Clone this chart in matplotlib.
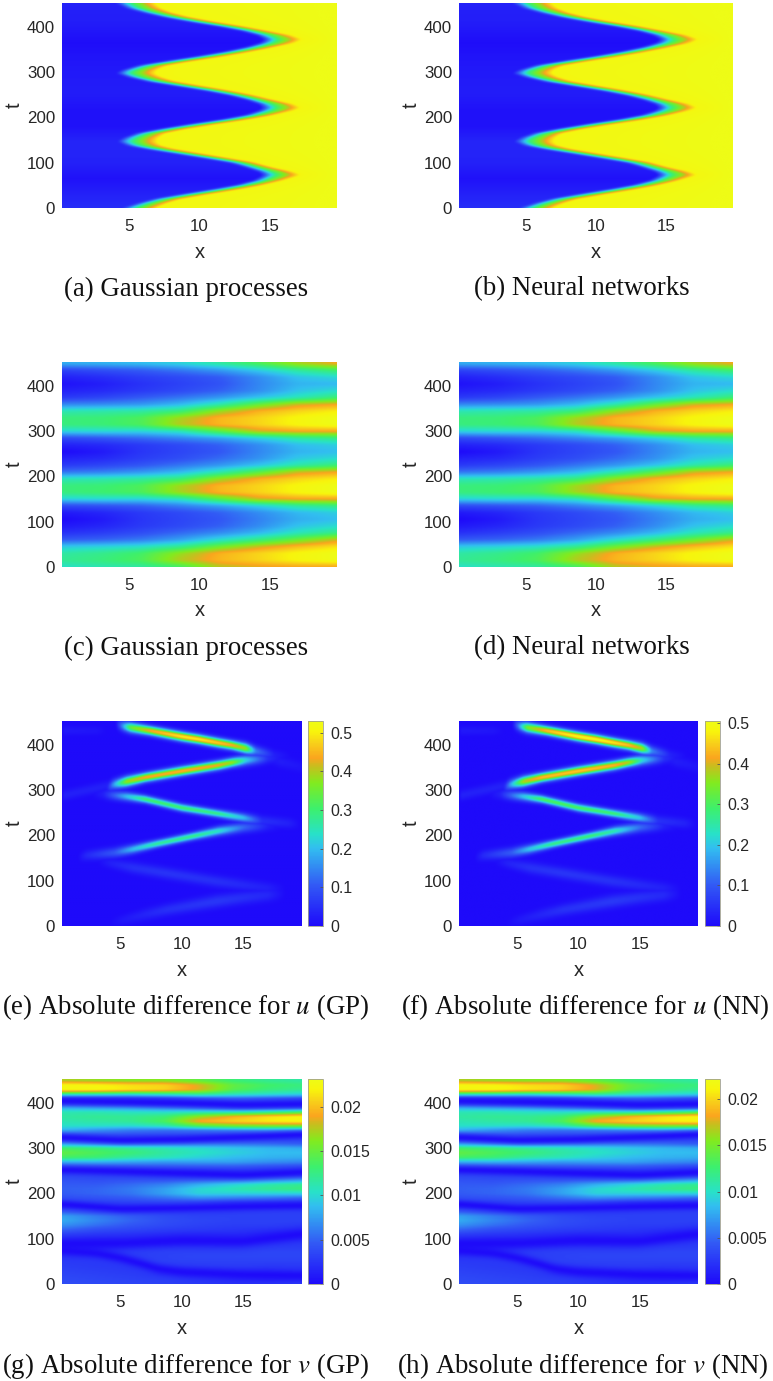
import numpy as np
import matplotlib
matplotlib.use("Agg")
import matplotlib.pyplot as plt
from matplotlib.colors import LinearSegmentedColormap

plt.rcParams['mathtext.fontset'] = 'stix'

W, H = 773, 1381

# ---------- colour scale ----------
cmap_pos = [0, .2, .38, .45, .57, .7, .78, .82, .9, .95, 1]
cmap_rgb = [(30, 10, 250), (50, 90, 245), (50, 190, 240), (40, 225, 200), (60, 240, 110),
            (130, 235, 30), (200, 190, 30), (250, 165, 30), (248, 212, 25), (248, 244, 12), (238, 252, 22)]
cmap = LinearSegmentedColormap.from_list('mat', [(p, tuple(c / 255 for c in rgb)) for p, rgb in zip(cmap_pos, cmap_rgb)], N=256)

X_MIN, X_MAX, T_MAX = 0.25, 19.75, 453

# ---------- u field: where the front sits at each time ----------
u_t = [0, 10, 20, 30, 40, 50, 60, 68, 73, 80, 90, 100, 110, 120, 130, 138, 147, 155, 165, 175, 185, 195, 205, 215,
       222, 230, 240, 250, 260, 270, 280, 290, 298, 305, 315, 325, 335, 345, 355, 365, 373, 382, 392, 402, 412, 422,
       432, 442, 453]
u_mid = [5.5, 6.4, 7.6, 9.5, 11.5, 13.3, 14.6, 15.2, 15.5, 15.1, 14.0, 12.9, 11.0, 9.0, 7.0, 5.7, 5.2, 5.5, 6.3, 8.0,
         10.0, 12.2, 14.0, 15.1, 15.5, 15.1, 14.0, 12.7, 11.0, 9.0, 7.0, 5.7, 5.1, 5.4, 6.4, 8.4, 10.5, 12.4, 14.0,
         15.2, 15.6, 15.0, 13.7, 12.0, 10.0, 8.2, 6.8, 5.7, 5.1]
u_left = [1.0, 0.9, 0.85, 0.85, 0.85, 0.85, 0.9, 1.0, 1.1, 1.0, 0.85, 0.85, 0.85, 0.85, 0.9, 1.0, 1.1, 1.0, 0.9, 0.85,
          0.85, 0.85, 0.9, 1.0, 1.1, 1.0, 0.85, 0.85, 0.85, 0.85, 0.9, 1.0, 1.1, 1.0, 0.9, 0.85, 0.85, 0.85, 0.9,
          1.0, 1.1, 1.0, 0.85, 0.85, 0.85, 0.85, 0.9, 1.0, 1.1]
u_right = [1.1, 1.0, 0.9, 0.9, 0.9, 0.9, 1.0, 1.2, 1.3, 1.2, 0.9, 0.85, 0.85, 0.9, 1.0, 1.2, 1.3, 1.2, 1.0, 0.9,
           0.9, 0.9, 0.95, 1.2, 1.3, 1.2, 0.9, 0.85, 0.85, 0.9, 1.0, 1.2, 1.3, 1.2, 1.0, 0.9, 0.9, 0.9, 0.95,
           1.2, 1.3, 1.2, 0.9, 0.85, 0.85, 0.9, 1.0, 1.2, 1.3]
u_floor_t = [0, 30, 65, 100, 145, 180, 215, 255, 300, 330, 365, 410, 453]
u_floor = [.09, .06, .02, .06, .07, .02, .02, .05, .04, .03, .01, .05, .06]
u_levels = [.55, .85, .97]

# ---------- v field, colour-scale fraction; rows t = 0, 15, ... 450 ----------
grid_x = [0.25, 3.04, 5.82, 8.61, 11.39, 14.18, 16.96, 19.75]
v_t = list(range(0, 451, 15))
v_rows = [
    [.45, .48, .50, .58, .76, .80, .82, .82],
    [.52, .55, .60, .76, .85, .90, .96, 1.0],
    [.50, .53, .58, .72, .84, .90, .96, 1.0],
    [.40, .42, .45, .52, .66, .78, .86, .92],
    [.20, .22, .26, .33, .44, .54, .66, .78],
    [.10, .13, .17, .23, .29, .37, .47, .54],
    [.04, .07, .12, .16, .21, .29, .39, .44],
    [.00, .04, .11, .15, .19, .27, .35, .38],
    [.04, .07, .12, .16, .21, .29, .37, .41],
    [.16, .18, .21, .27, .33, .41, .50, .54],
    [.42, .43, .42, .46, .62, .78, .82, .82],
    [.55, .57, .60, .74, .85, .90, .96, 1.0],
    [.55, .56, .60, .74, .85, .90, .96, 1.0],
    [.47, .48, .50, .55, .72, .84, .90, .94],
    [.25, .27, .31, .37, .48, .62, .78, .82],
    [.12, .15, .19, .25, .31, .39, .49, .56],
    [.06, .08, .13, .17, .23, .30, .40, .44],
    [.00, .04, .11, .15, .19, .28, .36, .38],
    [.06, .08, .12, .16, .21, .29, .38, .41],
    [.16, .19, .23, .28, .33, .41, .50, .54],
    [.42, .43, .42, .46, .62, .78, .82, .82],
    [.55, .56, .60, .76, .85, .90, .96, 1.0],
    [.55, .56, .60, .74, .85, .90, .96, 1.0],
    [.48, .49, .50, .55, .72, .84, .90, .94],
    [.28, .29, .31, .37, .48, .64, .78, .82],
    [.12, .15, .20, .25, .31, .39, .47, .56],
    [.06, .08, .12, .16, .21, .29, .39, .44],
    [.02, .05, .10, .14, .18, .28, .36, .37],
    [.06, .09, .13, .16, .20, .29, .39, .43],
    [.14, .17, .20, .25, .31, .40, .50, .57],
    [.35, .36, .38, .42, .50, .60, .74, .82],
]

# ---------- |u| error: ridges, (x, t at crest, crest value, width) ----------
ridge_x = [
    [4.6, 5.2, 5.8, 7.4, 10.0, 11.4, 13.0, 14.1, 15.2, 16.0, 17.5, 19.0],
    [3.8, 4.4, 5.5, 7.0, 10.0, 13.0, 14.1, 15.2, 17.0, 18.5],
    [2.5, 3.6, 5.5, 7.0, 10.0, 13.0, 15.0, 16.5, 18.7, 19.7],
    [1.5, 2.2, 4.5, 6.0, 8.0, 11.0, 13.0, 15.0, 17.0, 18.5],
    [3.0, 4.2, 6.0, 8.7, 12.8, 15.0, 17.0, 18.5],
    [4.0, 5.2, 7.0, 8.7, 12.8, 15.0, 17.0, 18.5],
    [0.3, 2.5, 4.0],
    [0.3, 3.0, 4.0],
    [16.0, 18.0, 19.75],
]
ridge_t = [
    [445, 440, 437, 430, 417, 411, 403, 398, 391, 385, 376, 372],
    [303, 311, 318, 327, 341, 354, 360, 365, 369, 371],
    [292, 290, 285, 279, 260, 247, 238, 231, 226, 224],
    [150, 155, 161, 169, 181, 198, 209, 217, 220, 222],
    [144, 138, 128, 116, 98, 90, 83, 80],
    [6, 13, 25, 35, 54, 62, 68, 72],
    [287, 300, 309],
    [430, 430, 430],
    [376, 362, 350],
]
ridge_peak = [
    [.0, .17, .34, .44, .50, .50, .47, .44, .38, .14, .03, .0],
    [.0, .16, .38, .44, .45, .43, .38, .22, .05, .0],
    [.0, .03, .20, .30, .30, .28, .20, .05, .03, .0],
    [.0, .04, .10, .20, .27, .28, .24, .12, .03, .0],
    [.0, .03, .05, .055, .05, .04, .03, .0],
    [.0, .02, .035, .05, .06, .05, .04, .0],
    [.03, .03, .03],
    [.02, .015, .0],
    [.0, .025, .015],
]
ridge_width = [
    [8, 8, 8, 7, 7, 7, 7, 7, 8, 8, 8, 8],
    [8, 8, 8, 7, 7, 7, 7, 8, 8, 8],
    [8, 8, 7, 6, 6, 6, 7, 8, 8, 8],
    [8, 8, 8, 7, 6, 6, 7, 8, 8, 8],
    [8, 8, 9, 9, 9, 9, 9, 9],
    [8, 8, 9, 9, 10, 10, 10, 10],
    [8, 8, 8],
    [7, 7, 7],
    [8, 9, 9],
]

# ---------- |v| error, colour-scale fraction; rows t = 0, 10, ... 450, without the dark lines ----------
w_t = list(range(0, 451, 10))
w_rows = [
    [.17, .16, .15, .14, .12, .10, .10, .12],
    [.16, .15, .14, .13, .11, .09, .08, .09],
    [.15, .14, .13, .11, .10, .09, .08, .09],
    [.14, .13, .12, .12, .11, .11, .10, .11],
    [.13, .12, .12, .13, .13, .13, .12, .12],
    [.12, .12, .13, .14, .14, .14, .14, .14],
    [.11, .12, .13, .14, .15, .15, .15, .15],
    [.09, .10, .13, .14, .14, .14, .15, .15],
    [.07, .08, .11, .12, .12, .12, .13, .13],
    [.07, .07, .09, .09, .09, .10, .11, .12],
    [.10, .09, .10, .09, .09, .09, .09, .10],
    [.14, .12, .11, .10, .09, .09, .08, .08],
    [.22, .17, .15, .13, .12, .11, .10, .10],
    [.30, .24, .19, .16, .14, .13, .13, .12],
    [.35, .28, .22, .17, .15, .14, .14, .14],
    [.33, .26, .20, .16, .14, .14, .14, .14],
    [.20, .15, .12, .12, .12, .12, .13, .13],
    [.12, .11, .11, .11, .11, .11, .11, .11],
    [.12, .13, .14, .15, .14, .11, .10, .10],
    [.17, .18, .20, .24, .29, .27, .25, .22],
    [.20, .22, .25, .33, .42, .42, .42, .42],
    [.21, .22, .26, .33, .43, .48, .52, .55],
    [.20, .20, .23, .27, .35, .42, .48, .52],
    [.18, .17, .18, .18, .20, .23, .28, .32],
    [.16, .15, .14, .13, .12, .12, .13, .16],
    [.16, .15, .14, .13, .12, .12, .12, .14],
    [.20, .20, .20, .20, .20, .20, .18, .17],
    [.36, .36, .34, .32, .33, .33, .30, .28],
    [.58, .56, .50, .47, .42, .38, .36, .35],
    [.64, .60, .56, .50, .46, .42, .38, .38],
    [.58, .56, .52, .48, .44, .40, .37, .35],
    [.34, .30, .28, .28, .27, .25, .23, .20],
    [.20, .18, .16, .16, .16, .16, .16, .16],
    [.22, .20, .18, .18, .18, .18, .18, .18],
    [.36, .30, .26, .24, .25, .28, .32, .32],
    [.45, .45, .44, .48, .62, .68, .70, .70],
    [.48, .50, .52, .60, .84, .90, .94, .97],
    [.50, .52, .52, .56, .72, .84, .92, .97],
    [.48, .48, .46, .45, .48, .50, .55, .62],
    [.36, .34, .33, .30, .27, .24, .25, .26],
    [.20, .18, .16, .15, .15, .15, .15, .15],
    [.18, .16, .15, .16, .20, .22, .20, .18],
    [.55, .52, .48, .50, .54, .48, .45, .42],
    [.97, .97, .93, .90, .80, .62, .55, .52],
    [.97, .96, .92, .90, .80, .64, .58, .55],
    [.75, .72, .70, .70, .64, .56, .52, .50],
]
# dark lines in the |v| error, (x, t)
line_x = [
    [.25, 5, 10, 15, 19.75],
    [.25, 5, 10, 15, 19.75],
    [.25, 5, 10, 15, 19.75],
    [.25, 5, 10, 15, 19.75],
    [.25, 5, 10, 15, 19.75],
    [.25, 3, 5, 7, 8, 10, 15, 19.75],
]
line_t = [
    [405, 403, 400, 396, 398],
    [324, 318, 320, 325, 330],
    [252, 249, 245, 241, 247],
    [176, 166, 168, 171, 173],
    [88, 90, 96, 94, 110],
    [74, 68, 57, 42, 33, 26, 20, 18],
]
line_width = [7, 6.5, 6.5, 6, 9, 8]

# ---------- labels ----------
x_ticks = [5, 10, 15]
t_ticks = [0, 100, 200, 300, 400]
captions = ['(a) Gaussian processes', '(b) Neural networks', '(c) Gaussian processes', '(d) Neural networks',
            '(e) Absolute difference for $u$ (GP)', '(f) Absolute difference for $u$ (NN)',
            '(g) Absolute difference for $v$ (GP)', '(h) Absolute difference for $v$ (NN)']
e_ticks = [0, .1, .2, .3, .4, .5]
e_ticklabels = ['0', '0.1', '0.2', '0.3', '0.4', '0.5']
g_ticks = [0, .005, .01, .015, .02]
g_ticklabels = ['0', '0.005', '0.01', '0.015', '0.02']
e_vmax = [.53, .505]
g_vmax = [.0231, .0222]

# ---------- build fields on a fine grid ----------
xs = np.linspace(X_MIN, X_MAX, 400)
ts = np.linspace(0, T_MAX, 460)


def build_u():
    out = np.zeros((ts.size, xs.size))
    for i, t in enumerate(ts):
        m = np.interp(t, u_t, u_mid)
        l = np.interp(t, u_t, u_left)
        r = np.interp(t, u_t, u_right)
        f = np.interp(t, u_floor_t, u_floor)
        out[i] = np.interp(xs, [m - l, m, m + r, m + 1.4 * r, X_MAX], [f] + u_levels + [1.0])
    return out


def upsample(ys, rows):
    a = np.array(rows, float)
    cols = np.array([np.interp(ts, ys, a[:, j]) for j in range(a.shape[1])]).T
    return np.array([np.interp(xs, grid_x, row) for row in cols])


def build_e():
    out = np.zeros((ts.size, xs.size))
    for rx, rt, rp, rw in zip(ridge_x, ridge_t, ridge_peak, ridge_width):
        c = np.interp(xs, rx, rt)
        p = np.interp(xs, rx, rp, left=0, right=0)
        w = np.interp(xs, rx, rw)
        out = np.maximum(out, p * np.exp(-0.5 * ((ts[:, None] - c) / w) ** 2))
    return out


def build_w():
    out = smooth_x(smooth_t(upsample(w_t, w_rows), 7))
    for lx, lt, w in zip(line_x, line_t, line_width):
        c = smooth_x(np.interp(xs, lx, lt)[None, :], 41)[0]
        out = out * (1 - 0.92 * np.exp(-0.5 * ((ts[:, None] - c) / w) ** 2))
    return out


def smooth_t(a, n=9):
    k = np.hanning(n + 2)[1:-1]
    k = k / k.sum()
    pad = np.pad(a, ((n // 2, n // 2), (0, 0)), mode='edge')
    return np.apply_along_axis(lambda c: np.convolve(c, k, mode='valid'), 0, pad)


def smooth_x(a, n=25):
    k = np.hanning(n + 2)[1:-1]
    k = k / k.sum()
    pad = np.pad(a, ((0, 0), (n // 2, n // 2)), mode='edge')
    return np.apply_along_axis(lambda c: np.convolve(c, k, mode='valid'), 1, pad)


U = smooth_t(build_u(), 11)
V = smooth_x(smooth_t(upsample(v_t, v_rows), 11))
E = smooth_x(build_e(), 9)
G = build_w()

# ---------- figure ----------
fig = plt.figure(figsize=(W / 100, H / 100), dpi=100)
TXT = '#262626'
SANS = 'Liberation Sans'
SERIF = 'Liberation Serif'


def add_px(x0, y0, x1, y1):
    return fig.add_axes([x0 / W, 1 - y1 / H, (x1 - x0) / W, (y1 - y0) / H])


def panel(x0, y0, x1, y1, data, vmax):
    ax = add_px(x0, y0, x1, y1)
    im = ax.imshow(data, origin='lower', extent=[X_MIN, X_MAX, 0, T_MAX], aspect='auto',
                   cmap=cmap, vmin=0, vmax=vmax, interpolation='bilinear')
    ax.set_xticks(x_ticks)
    ax.set_yticks(t_ticks)
    ax.tick_params(axis='y', length=0, labelsize=12.2, labelcolor=TXT, pad=5)
    ax.tick_params(axis='x', length=0, labelsize=12.2, labelcolor=TXT, pad=8)
    for lb in ax.get_xticklabels() + ax.get_yticklabels():
        lb.set_family(SANS)
    for s in ax.spines.values():
        s.set_visible(False)
    fig.text(((x0 + x1) / 2) / W, 1 - (y1 + 44) / H, 'x', ha='center', va='center',
             family=SANS, fontsize=14.5, color=TXT)
    fig.text((x0 - 48) / W, 1 - ((y0 + y1) / 2) / H, 't', ha='center', va='center', rotation=90,
             family=SANS, fontsize=14.5, color=TXT)
    return im


def colourbar(x0, y0, x1, y1, im, ticks, labels):
    cax = add_px(x0, y0, x1, y1)
    cb = fig.colorbar(im, cax=cax)
    cb.set_ticks(ticks)
    cb.set_ticklabels(labels)
    cax.tick_params(length=2, width=0.6, color='#555555', direction='in', labelsize=11.4, labelcolor=TXT, pad=5)
    for lb in cax.get_yticklabels():
        lb.set_family(SANS)
    cb.outline.set_edgecolor('#a0a090')
    cb.outline.set_linewidth(0.6)


COL_L, COL_R = 62, 459
panel(COL_L, 3, 337, 208, U, 1)
panel(COL_R, 3, 733, 208, U, 1)
panel(COL_L, 362, 337, 567, V, 1)
panel(COL_R, 362, 733, 567, V, 1)

im = panel(COL_L, 721, 302, 926, E, e_vmax[0])
colourbar(308, 721, 323, 926, im, e_ticks, e_ticklabels)
im = panel(COL_R, 721, 698, 926, E, e_vmax[1])
colourbar(705, 721, 720, 926, im, e_ticks, e_ticklabels)

im = panel(COL_L, 1079, 302, 1284, G * g_vmax[0], g_vmax[0])
colourbar(308, 1079, 323, 1284, im, g_ticks, g_ticklabels)
im = panel(COL_R, 1079, 698, 1284, G * g_vmax[1], g_vmax[1])
colourbar(705, 1079, 720, 1284, im, g_ticks, g_ticklabels)

cap_xy = [(186, 289), (582, 289), (186, 648), (582, 648), (186, 1007), (585, 1007), (186, 1366), (583, 1366)]
for (cx, cy), s in zip(cap_xy, captions):
    fig.text(cx / W, 1 - cy / H, s, ha='center', va='center', family=SERIF, fontsize=19.4, color='#111111')

fig.savefig('out.png', dpi=100)
